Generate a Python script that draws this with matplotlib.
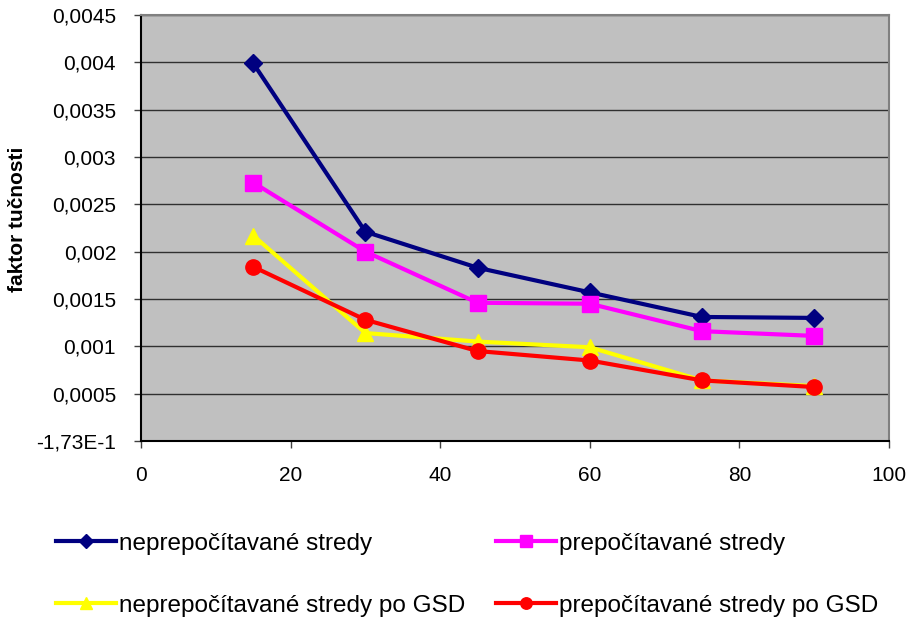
import matplotlib
matplotlib.use("Agg")
import matplotlib.pyplot as plt
from matplotlib.ticker import FixedLocator, FixedFormatter

plt.rcParams["font.family"] = ["Liberation Sans", "DejaVu Sans"]

# --- data ---
x_vals = [15, 30, 45, 60, 75, 90]
neprep = [0.00399, 0.00221, 0.00183, 0.00157, 0.00131, 0.00130]
prep = [0.00273, 0.00200, 0.00146, 0.00145, 0.00116, 0.00111]
neprep_gsd = [0.00217, 0.00114, 0.00105, 0.00099, 0.00064, 0.00058]
prep_gsd = [0.00184, 0.00128, 0.00095, 0.00085, 0.00064, 0.00057]

y_ticks = [0, 0.0005, 0.001, 0.0015, 0.002, 0.0025, 0.003, 0.0035, 0.004, 0.0045]
y_tick_labels = ["-1,73E-1", "0,0005", "0,001", "0,0015", "0,002", "0,0025",
                 "0,003", "0,0035", "0,004", "0,0045"]
x_ticks = [0, 20, 40, 60, 80, 100]

fig = plt.figure(figsize=(9.08, 6.24), dpi=100)
ax = fig.add_axes([0.1553, 0.2933, 0.8237, 0.6827])
ax.set_facecolor("#C0C0C0")

l1, = ax.plot(x_vals, neprep, color="#000080", lw=3, marker="D", ms=9,
              label="neprepočítavané stredy", zorder=3)
l2, = ax.plot(x_vals, prep, color="#FF00FF", lw=3, marker="s", ms=11,
              label="prepočítavané stredy", zorder=3)
l3, = ax.plot(x_vals, neprep_gsd, color="#FFFF00", lw=3, marker="^", ms=11,
              label="neprepočítavané stredy po GSD", zorder=3)
l4, = ax.plot(x_vals, prep_gsd, color="#FF0000", lw=3, marker="o", ms=11,
              label="prepočítavané stredy po GSD", zorder=3)

ax.set_xlim(0, 100)
ax.set_ylim(0, 0.0045)
ax.xaxis.set_major_locator(FixedLocator(x_ticks))
ax.yaxis.set_major_locator(FixedLocator(y_ticks))
ax.yaxis.set_major_formatter(FixedFormatter(y_tick_labels))
ax.tick_params(axis="both", direction="out", length=5, width=1, color="#404040",
               labelsize=15)
ax.tick_params(axis="x", pad=13)
ax.tick_params(axis="y", pad=13)

ax.grid(axis="y", color="#303030", lw=1)
ax.set_axisbelow(True)
for side in ["top", "right"]:
    ax.spines[side].set_color("#808080")
    ax.spines[side].set_linewidth(1.5)
for side in ["left", "bottom"]:
    ax.spines[side].set_color("black")
    ax.spines[side].set_linewidth(1.5)

ax.set_ylabel("faktor tučnosti", fontsize=15, fontweight="bold")
ax.yaxis.set_label_coords(-0.153, 0.52)

fig.legend(handles=[l1, l3, l2, l4], loc="upper left", bbox_to_anchor=(0.051, 0.162),
           ncol=2, frameon=False, fontsize=17.5, handlelength=2.45, handletextpad=0.15,
           columnspacing=1.26, labelspacing=1.65, borderaxespad=0, markerscale=0.75)

plt.savefig("out.png", dpi=100)
plt.close()
